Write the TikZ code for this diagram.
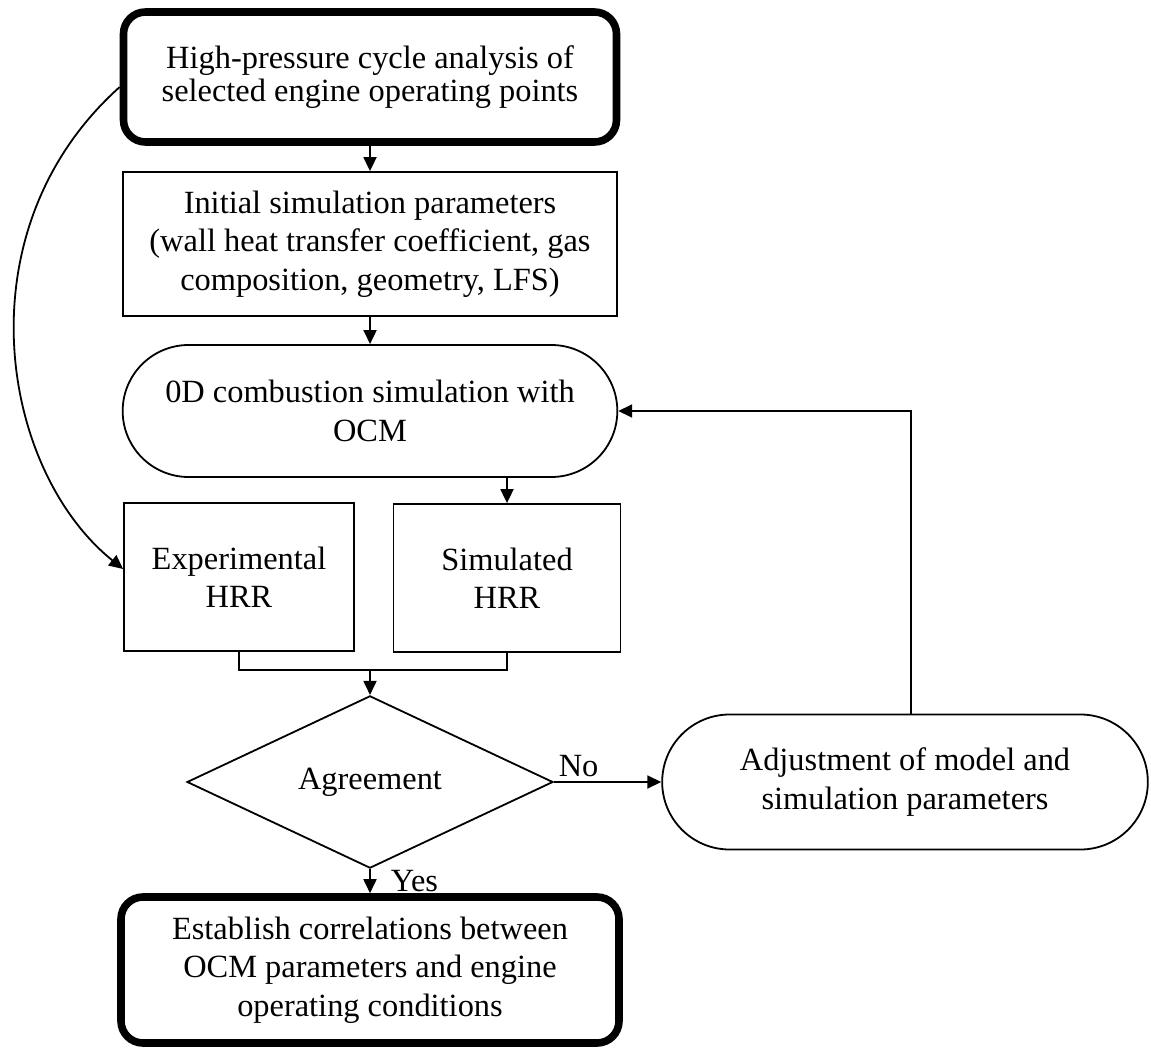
\documentclass[tikz,border=0pt]{standalone}
\usepackage{fontspec}
\setmainfont{Liberation Serif}
\usetikzlibrary{shapes.geometric,shapes.misc,arrows.meta}
\begin{document}
\begin{tikzpicture}[x=0.5pt,y=-0.5pt,
	every node/.style={font=\fontsize{16.2}{19.2}\selectfont, align=center},
	endbox/.style={rectangle, rounded corners=11pt, draw=black, line width=3.8pt},
	parbox/.style={rectangle, draw=black, line width=0.9pt},
	simbox/.style={rounded rectangle, draw=black, line width=0.9pt},
	askbox/.style={diamond, draw=black, line width=0.9pt, minimum width=183pt, minimum height=85pt, inner sep=0pt},
	flow/.style={-{Triangle[length=7pt,width=6.5pt]}, line width=0.9pt}]
		\useasboundingbox (0,0) rectangle (1151,1048);
		\node[endbox, minimum width=246.5pt, minimum height=65pt, font=\fontsize{16.2}{16.8}\selectfont](start) at (370,77){High-pressure cycle analysis of\\selected engine operating points};
		\node[parbox, minimum width=247pt, minimum height=72pt](init) at (370,244){Initial simulation parameters\\(wall heat transfer coefficient, gas\\composition, geometry, LFS)};
		\node[simbox, minimum width=254pt, minimum height=66pt](zerod) at (370,411){0D combustion simulation with\\OCM};
		\node[parbox, minimum width=115pt, minimum height=74pt](exp) at (239,577){Experimental\\HRR};
		\node[parbox, minimum width=113.5pt, minimum height=74pt](sim) at (507,578){Simulated\\HRR};
		\node[askbox](agree) at (370,782){Agreement};
		\node[simbox, minimum width=249.5pt, minimum height=67.5pt](adjust) at (905,782){Adjustment of model and\\simulation parameters};
		\node[endbox, minimum width=249pt, minimum height=73pt](corr) at (370,970){Establish correlations between\\OCM parameters and engine\\operating conditions};
		\coordinate (join) at (370,670);
		\draw [flow] (start) -- (init);
		\draw [flow] (init) -- (zerod);
		\draw [flow] (zerod.south -| sim.north) -- (sim.north);
		\draw [line width=0.9pt] (exp.south) |- (join) -| (sim.south);
		\draw [flow] (join) -- (agree.north);
		\draw [flow] (agree.east) -- node[pos=0, anchor=south west, inner sep=2pt]{No}(adjust.west);
		\draw [flow] (agree.south) -- node[anchor=west, inner sep=0pt, xshift=10pt]{Yes}(corr.north);
		\draw [flow] ([xshift=3pt]adjust.north) |- (zerod.east);
		\draw [flow] ([yshift=-5pt]start.west) .. controls (-40,230) and (0,470) .. ([yshift=4pt]exp.west);
	\end{tikzpicture}
\end{document}
